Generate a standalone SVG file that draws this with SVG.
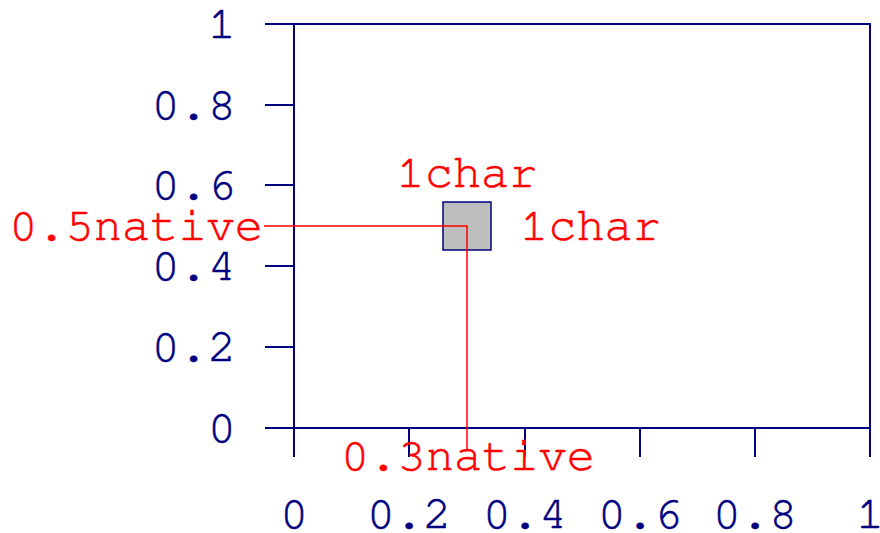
<svg xmlns="http://www.w3.org/2000/svg" width="880" height="533" viewBox="0 0 880 533">
<style>
.ax{stroke:#000080;stroke-width:2;fill:none}
.lab{font-family:"Nimbus Mono PS","FreeMono","Courier","Liberation Mono",monospace;font-size:47px;fill:#000080;stroke:#000080;stroke-width:0.6}
.red{font-family:"Nimbus Mono PS","FreeMono","Courier","Liberation Mono",monospace;font-size:47px;fill:#ff0000;stroke:#ff0000;stroke-width:0.6}
.rl{stroke:#ff0000;stroke-width:1.5;fill:none}
</style>
<rect width="880" height="533" fill="#fff"/>
<g id="plot">
<rect class="ax" x="294" y="24" width="576" height="404"/>
<path class="ax" d="M265 24H294M265 105H294M265 185H294M265 266H294M265 347H294M265 428H294"/>
<path class="ax" d="M294 428V457M409 428V457M525 428V457M640 428V457M755 428V457M870 428V457"/>
</g>
<g id="ylabels" class="lab" text-anchor="end">
<text x="236" y="38">1</text>
<text x="236" y="119">0.8</text>
<text x="236" y="199">0.6</text>
<text x="236" y="280">0.4</text>
<text x="236" y="361">0.2</text>
<text x="236" y="442">0</text>
</g>
<g id="xlabels" class="lab" text-anchor="middle">
<text x="294" y="528">0</text>
<text x="409" y="528">0.2</text>
<text x="525" y="528">0.4</text>
<text x="640" y="528">0.6</text>
<text x="755" y="528">0.8</text>
<text x="870" y="528">1</text>
</g>
<g id="box">
<rect x="443" y="202" width="48" height="48" fill="#bebebe" stroke="#000080" stroke-width="1.5"/>
</g>
<g id="connectors">
<path class="rl" d="M264 226H467V449"/>
</g>
<g id="annotations" class="red">
<text x="263" y="240" text-anchor="end">0.5native</text>
<text x="468" y="470" text-anchor="middle">0.3native</text>
<text x="467" y="187" text-anchor="middle">1char</text>
<text x="520" y="240">1char</text>
</g>
</svg>
